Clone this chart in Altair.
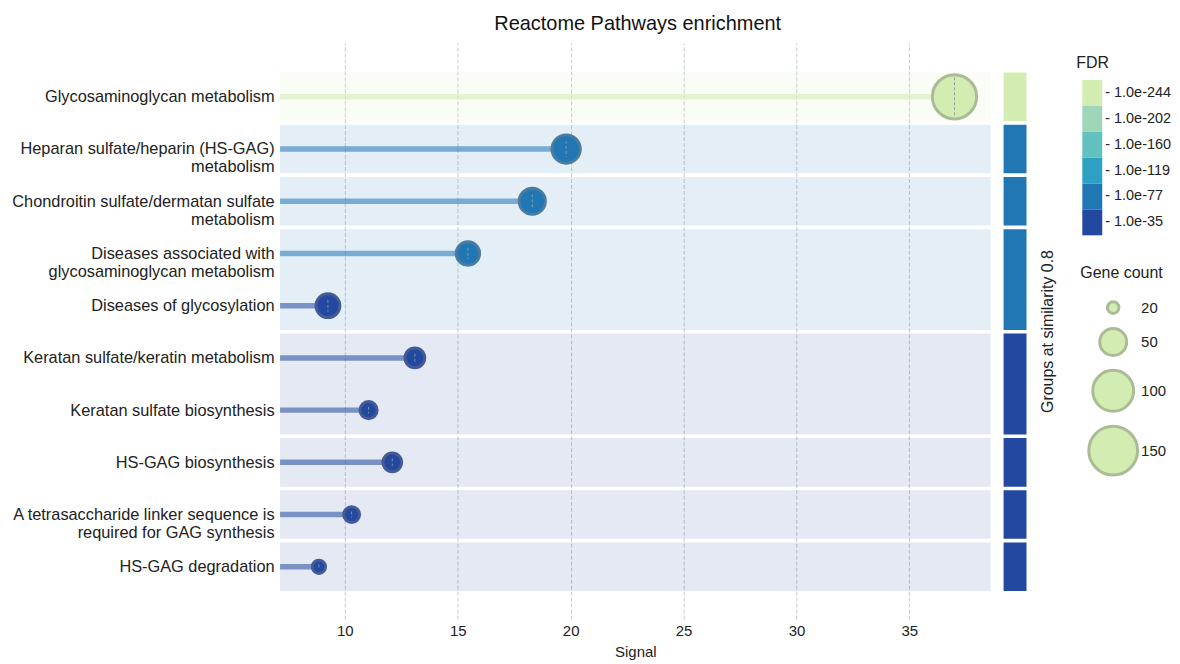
import json
import altair as alt
import pandas as pd

# ---------------- data ----------------
pathways = [
    "Glycosaminoglycan metabolism",
    "Heparan sulfate/heparin (HS-GAG)\nmetabolism",
    "Chondroitin sulfate/dermatan sulfate\nmetabolism",
    "Diseases associated with\nglycosaminoglycan metabolism",
    "Diseases of glycosylation",
    "Keratan sulfate/keratin metabolism",
    "Keratan sulfate biosynthesis",
    "HS-GAG biosynthesis",
    "A tetrasaccharide linker sequence is\nrequired for GAG synthesis",
    "HS-GAG degradation",
]
signal = [37.0, 19.8, 18.3, 15.45, 9.25, 13.1, 11.05, 12.1, 10.3, 8.85]
gene_count = [120, 54, 48, 41, 42, 33, 28, 31, 26, 22]
fdr_bin = ["1.0e-244", "1.0e-77", "1.0e-77", "1.0e-77", "1.0e-35",
           "1.0e-35", "1.0e-35", "1.0e-35", "1.0e-35", "1.0e-35"]
group = [0, 1, 2, 3, 3, 4, 4, 5, 6, 7]

fdr_levels = ["1.0e-244", "1.0e-202", "1.0e-160", "1.0e-119", "1.0e-77", "1.0e-35"]
fdr_colors = ["#d3ecb1", "#9fd6ba", "#62c0bf", "#2ea1c3", "#2077b4", "#2348a0"]
ring_colors = ["#aabc96", "#8fb3a2", "#6fa6a8", "#4d8ea7", "#4a7ba0", "#435a94"]
size_legend_values = [20, 50, 100, 150]
signal_ticks = [10, 15, 20, 25, 30, 35]

FONT = "Liberation Sans"
n = len(pathways)

df = pd.DataFrame({
    "row": list(range(n)),
    "signal": signal,
    "count": gene_count,
    "fdr": fdr_bin,
    "group": group,
})
rank = {lv: i for i, lv in enumerate(fdr_levels)}
g = (df.groupby("group")
       .agg(start=("row", "min"), end=("row", "max"),
            frank=("fdr", lambda s: min(rank[v] for v in s)))
       .reset_index())
g["gfdr"] = [fdr_levels[i] for i in g["frank"]]

# ---------------- scales / axes ----------------
W, H = 713, 578
YDOM = [-1.03, 10.0]
px_per_row = H / (YDOM[1] - YDOM[0])

yscale = alt.Scale(domain=YDOM, reverse=True, nice=False, zero=False)
xscale = alt.Scale(domain=[7.13, 38.6], nice=False, zero=False)
color_scale = alt.Scale(domain=fdr_levels, range=fdr_colors)
# ring scale listed in reverse so that it is never merged with the colour legend
ring_scale = alt.Scale(domain=fdr_levels[::-1], range=ring_colors[::-1])
size_scale = alt.Scale(domain=[20, 50, 100, 150], range=[135, 729, 1681, 2401])

labels_js = json.dumps([p.replace("\n", "|") for p in pathways])
yaxis = alt.Axis(
    values=list(range(n)),
    labelExpr=f"split({labels_js}[round(datum.value)], '|')",
    grid=False, domain=False, ticks=False, title=None, labelLimit=0,
    labelFontSize=16.4, labelPadding=6, labelLineHeight=18,
    labelColor="#222222", labelFont=FONT,
)
xaxis = alt.Axis(
    values=signal_ticks, grid=True, gridDash=[4, 2], gridColor="#c6ccd4",
    gridWidth=1, domain=False, ticks=False, labelFontSize=15, labelPadding=5,
    labelColor="#222222", title="Signal", titleFontSize=15,
    titleFontWeight="normal", titlePadding=6, titleColor="#222222",
    labelFont=FONT, titleFont=FONT,
)

bands = alt.Chart(g).transform_calculate(
    y0="datum.start - 0.465", y1="datum.end + 0.465"
).mark_rect(fillOpacity=0.12).encode(
    x=alt.value(0), x2=alt.value("width"),
    y=alt.Y("y0:Q", scale=yscale, axis=yaxis),
    y2="y1:Q",
    color=alt.Color("gfdr:N", scale=color_scale),
)

stems = alt.Chart(df).mark_rule(strokeWidth=5.5, strokeOpacity=0.55, strokeCap="butt").encode(
    x=alt.X("signal:Q", scale=xscale),
    x2=alt.value(0),
    y=alt.Y("row:Q", scale=yscale),
    color=alt.Color("fdr:N", scale=color_scale),
)

dots = alt.Chart(df).transform_calculate(ring="datum.fdr").mark_circle(
    opacity=1, strokeWidth=3
).encode(
    x=alt.X("signal:Q", scale=xscale, axis=xaxis),
    y=alt.Y("row:Q", scale=yscale),
    color=alt.Color("fdr:N", scale=color_scale, legend=alt.Legend(
        title="FDR", symbolType="M-1,-1.3H1V1.3H-1Z", symbolSize=400,
        symbolStrokeWidth=0, symbolOpacity=1, rowPadding=0, symbolOffset=6,
        labelOffset=3, labelExpr="'- ' + datum.label",
        labelFontSize=14.5, titleFontSize=16,
        titleFontWeight="normal", titlePadding=12, labelFont=FONT,
        titleFont=FONT, labelColor="#222222", titleColor="#222222",
        orient="none", legendX=799, legendY=12,
    )),
    stroke=alt.Stroke("ring:N", scale=ring_scale, legend=None),
    size=alt.Size("count:Q", scale=size_scale, legend=alt.Legend(
        title="Gene count", values=size_legend_values, symbolType="circle",
        symbolFillColor="#d3ecb1", symbolStrokeColor="#aabc96",
        symbolStrokeWidth=3, rowPadding=2, symbolOffset=7, labelOffset=2,
        labelFontSize=15, titleFontSize=16, titleFontWeight="normal",
        titlePadding=19, labelFont=FONT, titleFont=FONT,
        labelColor="#222222", titleColor="#222222",
        orient="none", legendX=803, legendY=223,
    )),
)

# short dashed vertical line through each dot (length grows with gene count)
marks = alt.Chart(df).transform_calculate(
    half=f"(0.35 * datum.count - 3) / 2 / {px_per_row}",
).transform_calculate(
    ya="datum.row - datum.half", yb="datum.row + datum.half",
).mark_rule(strokeWidth=1, strokeDash=[3, 2], color="#8a97a6", opacity=0.9).encode(
    x=alt.X("signal:Q", scale=xscale),
    y=alt.Y("ya:Q", scale=yscale),
    y2="yb:Q",
)

left = alt.layer(bands, stems, dots, marks).properties(width=W, height=H)

right = alt.Chart(g).transform_calculate(
    y0="datum.start - 0.465", y1="datum.end + 0.465"
).mark_rect().encode(
    x=alt.value(0), x2=alt.value("width"),
    y=alt.Y("y0:Q", scale=yscale, axis=alt.Axis(
        orient="right", labels=False, ticks=False, domain=False, grid=False,
        title="Groups at similarity 0.8", titleAngle=270, titleBaseline="top",
        titleFontSize=16, titleFontWeight="normal", titlePadding=13,
        titleFont=FONT, titleColor="#222222")),
    y2="y1:Q",
    color=alt.Color("gfdr:N", scale=color_scale),
).properties(width=23, height=H)

chart = alt.hconcat(left, right, spacing=13).properties(
    title=alt.TitleParams("Reactome Pathways enrichment", fontSize=20, font=FONT,
                          fontWeight="normal", anchor="middle", offset=9,
                          dx=46, color="#111111"),
    padding={"left": 3, "top": 5, "right": 0, "bottom": 0},
).configure_view(stroke=None)

chart.save("out.html", embed_options={"renderer": "svg", "actions": False})
